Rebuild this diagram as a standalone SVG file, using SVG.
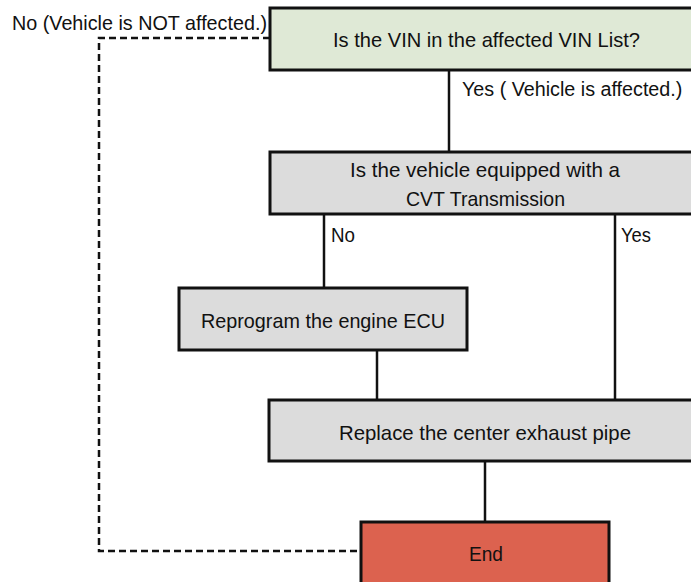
<svg xmlns="http://www.w3.org/2000/svg" width="691" height="582" viewBox="0 0 691 582">
<style>
.box{stroke:#111;stroke-width:3}
.g{fill:#dcdcdc}
.t{font-family:"Liberation Sans Narrow","Liberation Sans",Arial,sans-serif;font-size:21px;fill:#111}
.ln{stroke:#111;stroke-width:2.5;fill:none}
.dash{stroke:#111;stroke-width:2.5;fill:none;stroke-dasharray:7,4}
</style>
<rect width="691" height="582" fill="#fff"/>
<g id="connectors">
<path class="dash" d="M270,38 H99 V551 H361"/>
<path class="ln" d="M449,70 V152"/>
<path class="ln" d="M324,214 V288"/>
<path class="ln" d="M615,214 V400"/>
<path class="ln" d="M377,350 V400"/>
<path class="ln" d="M485,461 V522"/>
<text class="t" x="12" y="30" textLength="255" lengthAdjust="spacingAndGlyphs">No (Vehicle is NOT affected.)</text>
<text class="t" transform="translate(462,96) scale(0.94,1)" x="0" y="0">Yes ( Vehicle is affected.)</text>
<text class="t" x="331" y="242" textLength="24" lengthAdjust="spacingAndGlyphs">No</text>
<text class="t" x="621" y="242" textLength="30" lengthAdjust="spacingAndGlyphs">Yes</text>
</g>
<g id="q1">
<rect class="box" x="270" y="8" width="440" height="62" fill="#dfe9d6"/>
<text class="t" x="333" y="47" textLength="307" lengthAdjust="spacingAndGlyphs">Is the VIN in the affected VIN List?</text>
</g>
<g id="q2">
<rect class="box g" x="270" y="152" width="440" height="62"/>
<text class="t" x="350" y="177" textLength="270" lengthAdjust="spacingAndGlyphs">Is the vehicle equipped with a</text>
<text class="t" x="406" y="206" textLength="159" lengthAdjust="spacingAndGlyphs">CVT Transmission</text>
</g>
<g id="reprogram">
<rect class="box g" x="179" y="288" width="288" height="62"/>
<text class="t" x="201" y="328" textLength="244" lengthAdjust="spacingAndGlyphs">Reprogram the engine ECU</text>
</g>
<g id="replace">
<rect class="box g" x="269" y="400" width="440" height="61"/>
<text class="t" x="339" y="440" textLength="292" lengthAdjust="spacingAndGlyphs">Replace the center exhaust pipe</text>
</g>
<g id="end">
<rect class="box" x="361" y="522" width="248" height="70" fill="#dc624f"/>
<text class="t" x="469" y="561" textLength="34" lengthAdjust="spacingAndGlyphs">End</text>
</g>
</svg>
